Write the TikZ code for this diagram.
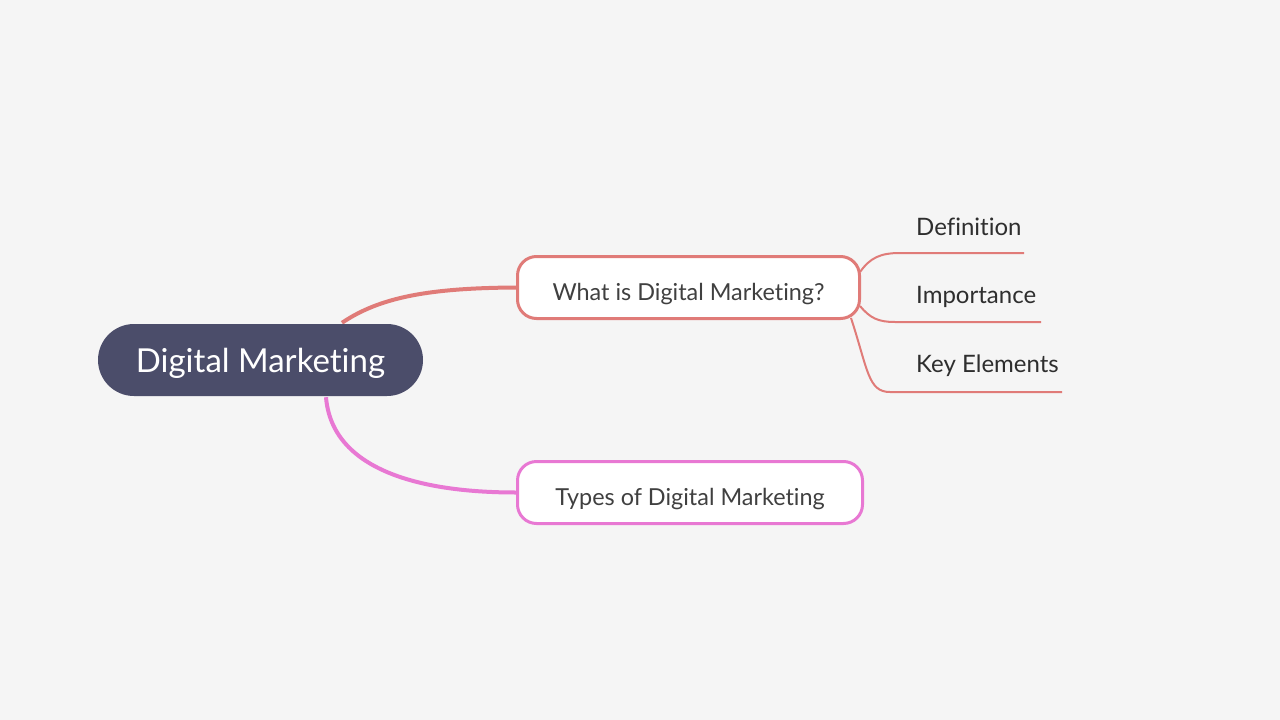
\documentclass[tikz,border=0pt]{standalone}
\usepackage{fontspec}
\setmainfont{Lato}[Ligatures={NoCommon,NoRare}]
\usetikzlibrary{calc,backgrounds}
\definecolor{bg}{HTML}{F5F5F5}
\definecolor{rootfill}{HTML}{4B4D6A}
\definecolor{redline}{HTML}{E07B78}
\definecolor{pinkline}{HTML}{E878D3}
\definecolor{labtext}{HTML}{404040}
\definecolor{childtext}{HTML}{2E2E2E}
\tikzset{
  rootbox/.style={fill=rootfill, rounded corners=36pt, minimum width=325pt, minimum height=72pt, inner sep=0pt, text height=24pt, text depth=0pt, text=white, font=\fontsize{33}{38}\selectfont},
  branchbox/.style={fill=white, line width=3pt, rounded corners=19pt, minimum height=62pt, inner sep=0pt, text height=26pt, text depth=0pt, text=labtext, font=\fontsize{23.4}{27}\selectfont},
  childlabel/.style={anchor=west, inner sep=0pt, text=childtext, font=\fontsize{24}{28}\selectfont},
  mainlink/.style={line width=4pt},
  sublink/.style={line width=2pt, draw=redline}
}
\begin{document}
\begin{tikzpicture}[x=1pt,y=-1pt]
\useasboundingbox (0,0) rectangle (1280,720);

\node[rootbox] (root) at (260.5,360) {Digital Marketing};
\node[branchbox, draw=redline, minimum width=342pt] (n1) at (688.5,287.5) {What is Digital Marketing?};
\node[branchbox, draw=pinkline, minimum width=345pt] (n2) at (690,492.5) {Types of Digital Marketing};

\node[childlabel] (c1) at (916,227) {Definition};
\node[childlabel] (c2) at (916,297) {Importance};
\node[childlabel] (c3) at (916,366) {Key Elements};

\coordinate (r1) at ($(root.north)+(81.5,-1)$);
\coordinate (r2) at ($(root.south)+(65.5,1)$);
\coordinate (s1) at ($(n1.east)+(-1,-15.5)$);
\coordinate (s2) at ($(n1.east)+(-1,18.5)$);
\coordinate (s3) at ($(n1.east)+(-10,30.5)$);
\coordinate (e1) at (1024,253);
\coordinate (e2) at (1041,322);
\coordinate (e3) at (1062,392);

\begin{scope}[on background layer]
\fill[bg] (0,0) rectangle (1280,720);
\draw[mainlink, draw=redline] (r1) .. controls (380,297) and (430,288) .. (n1.west);
\draw[mainlink, draw=pinkline] (r2) .. controls (332,470) and (420,492.5) .. (n2.west);
\draw[sublink] (s1) .. controls (870,258) and (880,253) .. (900,253) -- (e1);
\draw[sublink] (s2) .. controls (870,318) and (878,322) .. (895,322) -- (e2);
\draw[sublink] (s3) .. controls (868,370) and (868,392) .. (890,392) -- (e3);
\end{scope}
\end{tikzpicture}
\end{document}
